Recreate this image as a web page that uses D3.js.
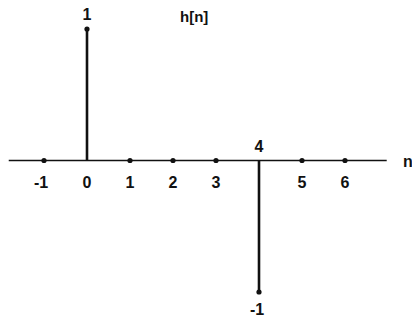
<!DOCTYPE html>
<html>
<head>
<meta charset="utf-8">
<script src="https://cdn.jsdelivr.net/npm/d3@7"></script>
<style>
  html, body { margin: 0; padding: 0; background: #fff; }
  svg text { font-family: "Liberation Sans", Arial, sans-serif; fill: #111; }
</style>
</head>
<body>
<svg id="chart" width="412" height="320"></svg>
<script>
// Impulse response h[n] = δ[n] − δ[n−4], shown as a stem plot
const nValues = [-1, 0, 1, 2, 3, 4, 5, 6];
const hValues = [0, 1, 0, 0, 0, -1, 0, 0];
const tickLabels = ["-1", "0", "1", "2", "3", "4", "5", "6"];
const title = "h[n]";
const axisName = "n";

const svg = d3.select("#chart");

const x = d3.scaleLinear().domain([-1, 6]).range([44, 345]);
const y = d3.scaleLinear().domain([-1, 1]).range([292, 29]);

const ink = "#111";
const y0 = y(0);

// horizontal n axis
svg.append("line")
  .attr("x1", x(-1.82)).attr("x2", x(6.97))
  .attr("y1", y0).attr("y2", y0)
  .attr("stroke", ink).attr("stroke-width", 1.6);

svg.append("text")
  .attr("x", x(7.35)).attr("y", y0 + 6)
  .attr("font-size", 16).attr("font-weight", "bold")
  .text(axisName);

// stems
const samples = nValues.map((n, i) => ({ n, h: hValues[i], label: tickLabels[i] }));

svg.selectAll("line.stem")
  .data(samples.filter(d => d.h !== 0))
  .join("line")
  .attr("class", "stem")
  .attr("x1", d => x(d.n)).attr("x2", d => x(d.n))
  .attr("y1", y0).attr("y2", d => y(d.h))
  .attr("stroke", ink).attr("stroke-width", 2.6);

// sample dots
svg.selectAll("circle.dot")
  .data(samples)
  .join("circle")
  .attr("class", "dot")
  .attr("cx", d => x(d.n)).attr("cy", d => y(d.h))
  .attr("r", 2.6).attr("fill", ink);

// n tick labels: below the axis, above it where the stem points down
svg.selectAll("text.tick")
  .data(samples)
  .join("text")
  .attr("class", "tick")
  .attr("x", d => x(d.n) + (d.n < 0 ? -3 : 0))
  .attr("y", d => d.h < 0 ? y0 - 9 : y0 + 27)
  .attr("text-anchor", "middle")
  .attr("font-size", 16).attr("font-weight", "bold")
  .text(d => d.label);

// value labels at stem tips
svg.selectAll("text.value")
  .data(samples.filter(d => d.h !== 0))
  .join("text")
  .attr("class", "value")
  .attr("x", d => x(d.n) + (d.h < 0 ? -2 : 0))
  .attr("y", d => d.h > 0 ? y(d.h) - 9 : y(d.h) + 23)
  .attr("text-anchor", "middle")
  .attr("font-size", 16).attr("font-weight", "bold")
  .text(d => d.h);

// title
svg.append("text")
  .attr("x", 180).attr("y", 22)
  .attr("font-size", 15).attr("font-weight", "bold")
  .text(title);
</script>
</body>
</html>
